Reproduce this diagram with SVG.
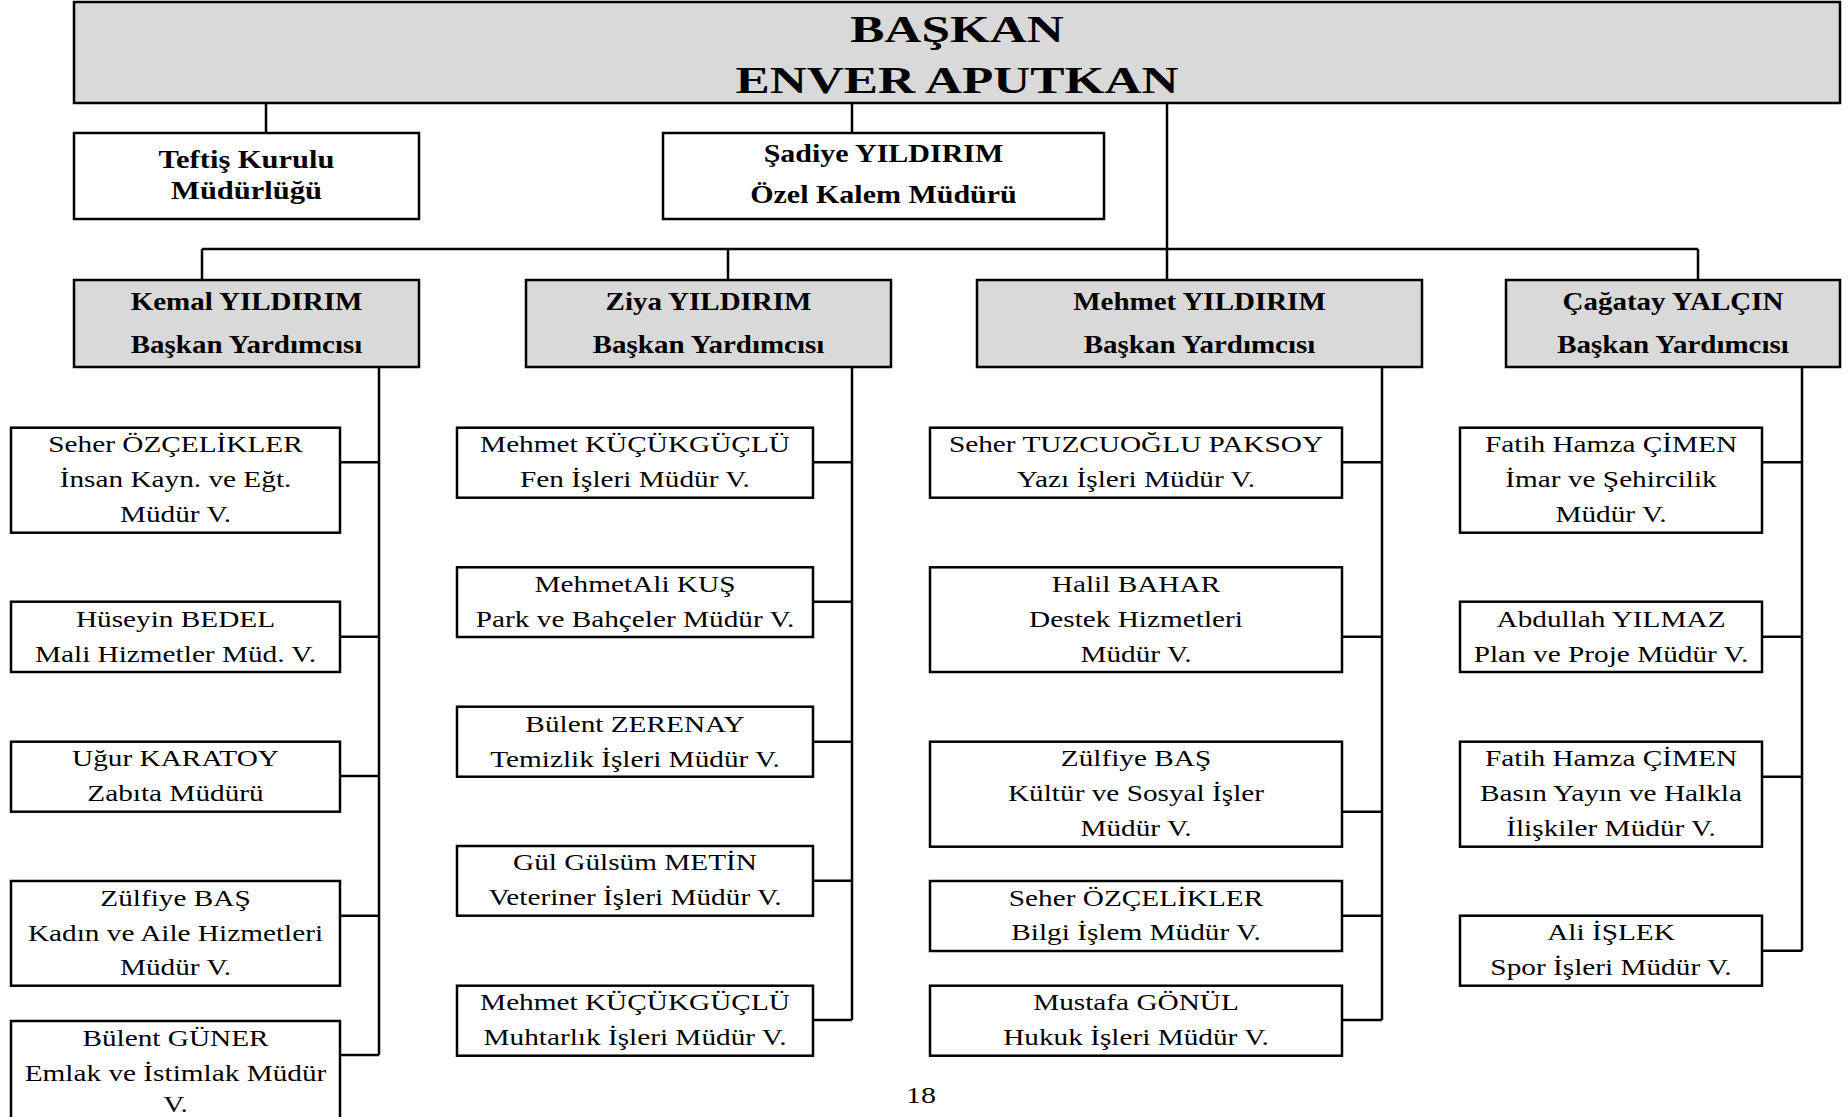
<svg xmlns="http://www.w3.org/2000/svg" width="1848" height="1117" viewBox="0 0 1848 1117">
<style>
.box{fill:#fff;stroke:#000;stroke-width:2.5}
.gray{fill:#d9d9d9}
.conn{stroke:#000;stroke-width:2.5;fill:none}
text{font-family:"Liberation Serif","Times New Roman",serif;font-size:24px;text-anchor:middle;fill:#000}
.b{font-weight:bold;font-size:25px}
.title{font-weight:bold;font-size:38px}
</style>
<rect width="1848" height="1117" fill="#fff"/>
<g id="connectors">
<path class="conn" d="M266 103V133M852 103V133M1167 103V280M202 249H1698M202 249V280M728 249V280M1698 249V280"/>
<path class="conn" d="M379 367V1055M340 462.3H379M340 636.7H379M340 776H379M340 915.7H379M340 1055H379"/>
<path class="conn" d="M852 367V1020M813 462.3H852M813 601.7H852M813 741.7H852M813 880.7H852M813 1020H852"/>
<path class="conn" d="M1382 367V1020M1342 462.3H1382M1342 636.7H1382M1342 811.7H1382M1342 915.7H1382M1342 1020H1382"/>
<path class="conn" d="M1802 367V950.7M1762 462.3H1802M1762 636.7H1802M1762 776.7H1802M1762 950.7H1802"/>
</g>
<g id="baskan"><rect class="box gray" x="74" y="2" width="1766" height="101"/>
<g transform="translate(957 0) scale(1.35 1)"><text class="title" x="0" y="41.7">BAŞKAN</text><text class="title" x="0" y="93">ENVER APUTKAN</text></g></g>
<g id="teftis"><rect class="box" x="74" y="133" width="345" height="86"/>
<g transform="translate(246.5 0) scale(1.22 1)"><text class="b" font-size="24" x="0" y="168">Teftiş Kurulu</text><text class="b" x="0" y="199">Müdürlüğü</text></g></g>
<g id="sadiye"><rect class="box" x="663" y="133" width="441" height="86"/>
<g transform="translate(883.5 0) scale(1.2 1)"><text class="b" x="0" y="162">Şadiye YILDIRIM</text><text class="b" x="0" y="203">Özel Kalem Müdürü</text></g></g>
<g id="kemal"><rect class="box gray" x="74" y="280" width="345" height="87"/>
<g transform="translate(246.5 0) scale(1.16 1)"><text class="b" x="0" y="310">Kemal YILDIRIM</text><text class="b" x="0" y="352.7">Başkan Yardımcısı</text></g></g>
<g id="ziya"><rect class="box gray" x="526" y="280" width="365" height="87"/>
<g transform="translate(708.5 0) scale(1.16 1)"><text class="b" x="0" y="310">Ziya YILDIRIM</text><text class="b" x="0" y="352.7">Başkan Yardımcısı</text></g></g>
<g id="mehmet"><rect class="box gray" x="977" y="280" width="445" height="87"/>
<g transform="translate(1199.5 0) scale(1.16 1)"><text class="b" x="0" y="310">Mehmet YILDIRIM</text><text class="b" x="0" y="352.7">Başkan Yardımcısı</text></g></g>
<g id="cagatay"><rect class="box gray" x="1506" y="280" width="334" height="87"/>
<g transform="translate(1673 0) scale(1.16 1)"><text class="b" x="0" y="310">Çağatay YALÇIN</text><text class="b" x="0" y="352.7">Başkan Yardımcısı</text></g></g>

<g id="k1"><rect class="box" x="11" y="427.7" width="329" height="105"/>
<g transform="translate(175.5 0) scale(1.22 1)"><text x="0" y="452.3">Seher ÖZÇELİKLER</text><text x="0" y="487.3">İnsan Kayn. ve Eğt.</text><text x="0" y="521.7">Müdür V.</text></g></g>
<g id="k2"><rect class="box" x="11" y="601.7" width="329" height="70.3"/>
<g transform="translate(175.5 0) scale(1.22 1)"><text x="0" y="626.7">Hüseyin BEDEL</text><text x="0" y="661.7">Mali Hizmetler Müd. V.</text></g></g>
<g id="k3"><rect class="box" x="11" y="741.7" width="329" height="70"/>
<g transform="translate(175.5 0) scale(1.22 1)"><text x="0" y="766">Uğur KARATOY</text><text x="0" y="800.7">Zabıta Müdürü</text></g></g>
<g id="k4"><rect class="box" x="11" y="881" width="329" height="104.7"/>
<g transform="translate(175.5 0) scale(1.22 1)"><text x="0" y="905.7">Zülfiye BAŞ</text><text x="0" y="941">Kadın ve Aile Hizmetleri</text><text x="0" y="975">Müdür V.</text></g></g>
<g id="k5"><rect class="box" x="11" y="1021" width="329" height="110"/>
<g transform="translate(175.5 0) scale(1.22 1)"><text x="0" y="1045.6">Bülent GÜNER</text><text x="0" y="1080.6">Emlak ve İstimlak Müdür</text><text x="0" y="1112">V.</text></g></g>

<g id="z1"><rect class="box" x="457" y="427.7" width="356" height="70"/>
<g transform="translate(635 0) scale(1.22 1)"><text x="0" y="452.3">Mehmet KÜÇÜKGÜÇLÜ</text><text x="0" y="487.3">Fen İşleri Müdür V.</text></g></g>
<g id="z2"><rect class="box" x="457" y="567.3" width="356" height="69.7"/>
<g transform="translate(635 0) scale(1.22 1)"><text x="0" y="592">MehmetAli KUŞ</text><text x="0" y="626.7">Park ve Bahçeler Müdür V.</text></g></g>
<g id="z3"><rect class="box" x="457" y="706.7" width="356" height="70"/>
<g transform="translate(635 0) scale(1.22 1)"><text x="0" y="731.7">Bülent ZERENAY</text><text x="0" y="766.7">Temizlik İşleri Müdür V.</text></g></g>
<g id="z4"><rect class="box" x="457" y="846" width="356" height="69.7"/>
<g transform="translate(635 0) scale(1.22 1)"><text x="0" y="870">Gül Gülsüm METİN</text><text x="0" y="905">Veteriner İşleri Müdür V.</text></g></g>
<g id="z5"><rect class="box" x="457" y="985.7" width="356" height="70"/>
<g transform="translate(635 0) scale(1.22 1)"><text x="0" y="1010">Mehmet KÜÇÜKGÜÇLÜ</text><text x="0" y="1045">Muhtarlık İşleri Müdür V.</text></g></g>

<g id="m1"><rect class="box" x="930" y="427.7" width="412" height="70"/>
<g transform="translate(1136 0) scale(1.22 1)"><text x="0" y="452.3">Seher TUZCUOĞLU PAKSOY</text><text x="0" y="487.3">Yazı İşleri Müdür V.</text></g></g>
<g id="m2"><rect class="box" x="930" y="567.3" width="412" height="104.7"/>
<g transform="translate(1136 0) scale(1.22 1)"><text x="0" y="592">Halil BAHAR</text><text x="0" y="626.7">Destek Hizmetleri</text><text x="0" y="661.7">Müdür V.</text></g></g>
<g id="m3"><rect class="box" x="930" y="741.7" width="412" height="105"/>
<g transform="translate(1136 0) scale(1.22 1)"><text x="0" y="766">Zülfiye BAŞ</text><text x="0" y="800.7">Kültür ve Sosyal İşler</text><text x="0" y="835.7">Müdür V.</text></g></g>
<g id="m4"><rect class="box" x="930" y="881" width="412" height="70"/>
<g transform="translate(1136 0) scale(1.22 1)"><text x="0" y="905.7">Seher ÖZÇELİKLER</text><text x="0" y="940">Bilgi İşlem Müdür V.</text></g></g>
<g id="m5"><rect class="box" x="930" y="985.7" width="412" height="70"/>
<g transform="translate(1136 0) scale(1.22 1)"><text x="0" y="1010">Mustafa GÖNÜL</text><text x="0" y="1045">Hukuk İşleri Müdür V.</text></g></g>

<g id="c1"><rect class="box" x="1460" y="427.7" width="302" height="105"/>
<g transform="translate(1611 0) scale(1.22 1)"><text x="0" y="452.3">Fatih Hamza ÇİMEN</text><text x="0" y="487.3">İmar ve Şehircilik</text><text x="0" y="521.7">Müdür V.</text></g></g>
<g id="c2"><rect class="box" x="1460" y="601.7" width="302" height="70.3"/>
<g transform="translate(1611 0) scale(1.22 1)"><text x="0" y="626.7">Abdullah YILMAZ</text><text x="0" y="661.7">Plan ve Proje Müdür V.</text></g></g>
<g id="c3"><rect class="box" x="1460" y="741.7" width="302" height="105"/>
<g transform="translate(1611 0) scale(1.22 1)"><text x="0" y="766">Fatih Hamza ÇİMEN</text><text x="0" y="800.7">Basın Yayın ve Halkla</text><text x="0" y="835.7">İlişkiler Müdür V.</text></g></g>
<g id="c4"><rect class="box" x="1460" y="915.7" width="302" height="70"/>
<g transform="translate(1611 0) scale(1.22 1)"><text x="0" y="940.3">Ali İŞLEK</text><text x="0" y="975.3">Spor İşleri Müdür V.</text></g></g>

<g id="page"><g transform="translate(921 0) scale(1.25 1)"><text x="0" y="1103" font-size="26">18</text></g></g>
</svg>
